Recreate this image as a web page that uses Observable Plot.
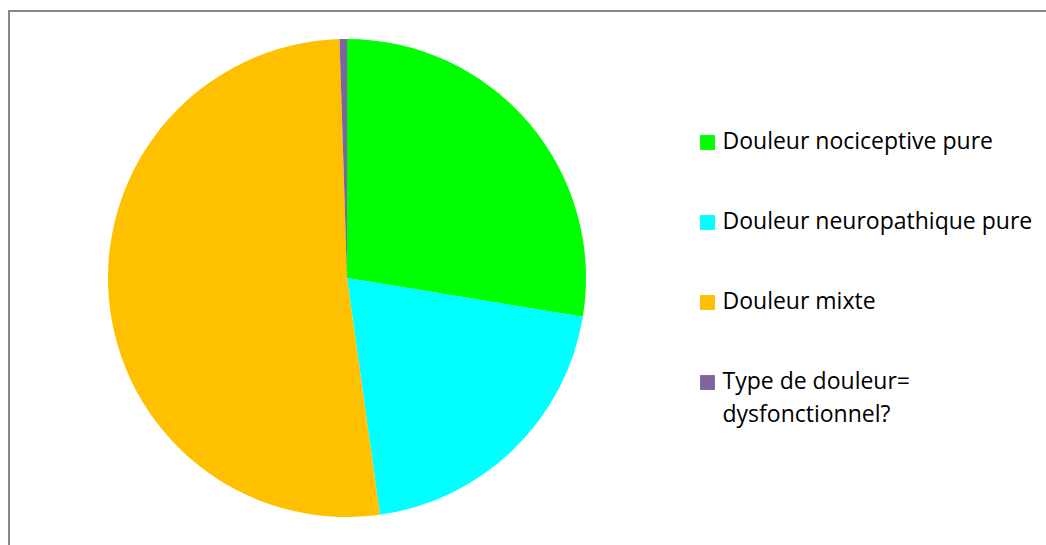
<!DOCTYPE html>
<html><head><meta charset="utf-8">
<script src="https://cdn.jsdelivr.net/npm/d3@7"></script>
<script src="https://cdn.jsdelivr.net/npm/@observablehq/plot@0.6"></script>
<style>
html,body{margin:0;padding:0;background:#fff;overflow:hidden;width:1046px;height:545px;}
#frame{position:absolute;left:8px;top:10px;width:1100px;height:600px;border:2px solid #878787;box-sizing:border-box;}
#chart{position:absolute;left:0;top:0;}
</style></head><body>
<div id="frame"></div><div id="chart"></div>
<script>
// Data (percent share of each pain type)
const categories = ["Douleur nociceptive pure", "Douleur neuropathique pure", "Douleur mixte", "Type de douleur=\ndysfonctionnel?"];
const shares = [27.6, 20.2, 51.7, 0.5];
const colors = ["#00FF00", "#00FFFF", "#FFC000", "#8064A2"];

const data = categories.map((c, i) => ({category: c, share: shares[i]}));

const W = 1046, H = 545;
const cx = 347, cy = 278, R = 239;

function pieMark(index, scales, values, dimensions, context) {
  const color = scales.color || Plot.scale({color: {type: "ordinal", domain: categories, range: colors}}).apply;
  const arcs = d3.pie().sort(null).value(d => d.share)(data);
  const arc = d3.arc().innerRadius(0).outerRadius(R);
  const g = d3.create("svg:g").attr("transform", `translate(${cx},${cy})`);
  g.selectAll("path").data(arcs).join("path")
    .attr("d", arc)
    .attr("fill", d => color(d.data.category));
  return g.node();
}

const chart = Plot.plot({
  width: W, height: H,
  margin: 0,
  style: {fontFamily: "'Open Sans', sans-serif", background: "transparent", overflow: "visible"},
  color: {type: "ordinal", domain: categories, range: colors},
  y: {type: "point", domain: categories, range: [141, 382], padding: 0, axis: null},
  marks: [
    pieMark,
    Plot.dot(data, {y: "category", fill: "category", symbol: "square", r: 8.4, frameAnchor: "left", dx: 707}),
    Plot.text(data, {y: "category", text: "category", frameAnchor: "left", dx: 722, dy: -16,
      textAnchor: "start", lineAnchor: "top", lineHeight: 1.4, fontSize: 23, fill: "#000"})
  ]
});
document.getElementById("chart").appendChild(chart);
</script>
</body></html>
